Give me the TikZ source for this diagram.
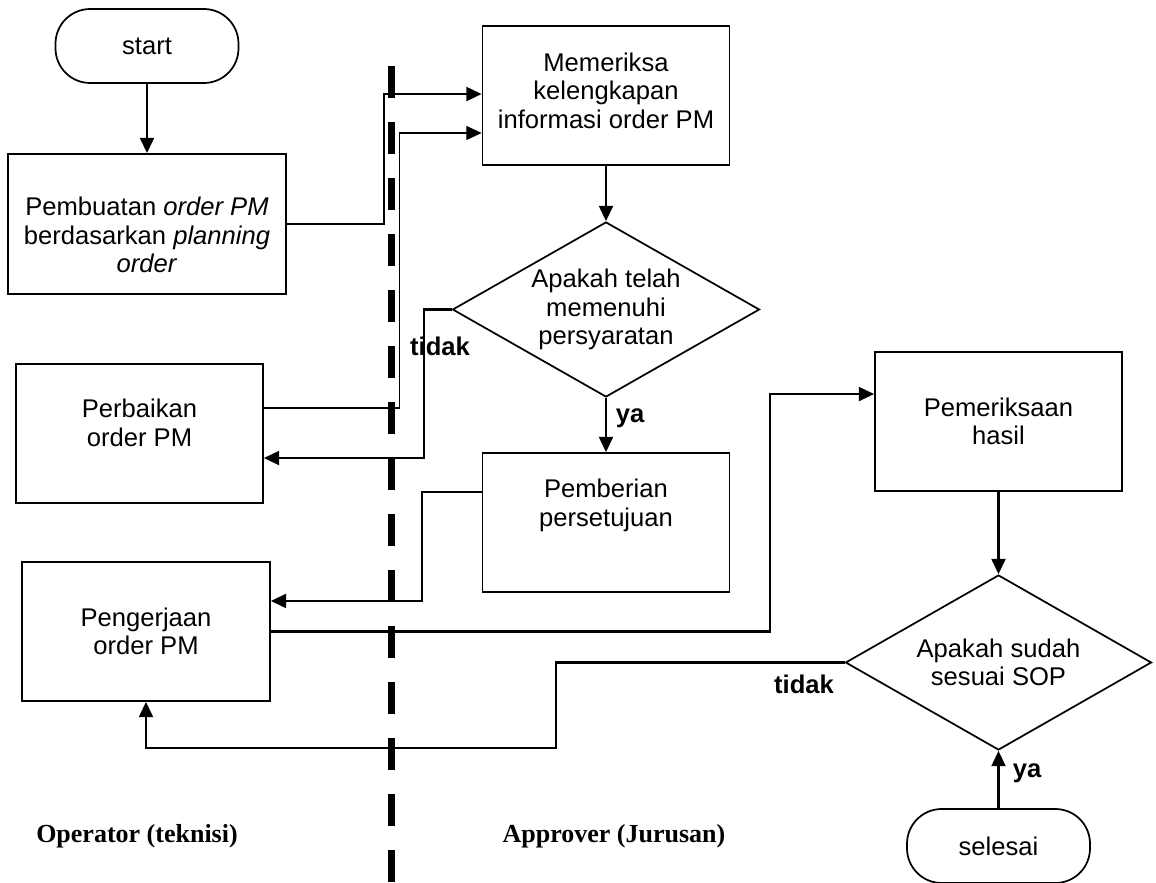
\documentclass[tikz,border=0pt]{standalone}
\usepackage{fontspec}
\setmainfont{Liberation Sans}
\newfontfamily\lajurfont{Liberation Serif}
\usetikzlibrary{arrows.meta,shapes.geometric}

\begin{document}
\begin{tikzpicture}[x=0.75pt, y=-0.75pt,
  every node/.style={font=\fontsize{19.2}{21.4}\selectfont},
  proses/.style={draw, line width=1.3pt, align=center, minimum width=185.25pt, minimum height=104.25pt, inner sep=2pt},
  keputusan/.style={draw, diamond, line width=1.3pt, align=center, aspect=1.75, inner sep=0pt, minimum width=230.25pt, minimum height=131.25pt},
  terminal/.style={draw, line width=1.3pt, rounded corners=26pt, minimum width=137.25pt, minimum height=55.5pt},
  panah/.style={-{Triangle[length=11.5pt, width=10.5pt]}, line width=1.7pt},
  ket/.style={font=\fontsize{19.2}{21.4}\selectfont\bfseries},
  lajur/.style={font=\fontsize{19.5}{22}\selectfont\lajurfont\bfseries},
  pemisah/.style={line width=5.25pt, dash pattern=on 24pt off 18pt}]
  \useasboundingbox (0,0) rectangle (1156,882);
  % Garis pemisah lajur
  \draw[pemisah] (391,66) -- (391,882);
  % Lajur operator
  \node[terminal] (start) at (147,46) {start};
  \node[proses, minimum width=208.5pt, minimum height=105pt, text height=72.8pt, text depth=0pt]
    (buat) at (147,224) {Pembuatan \textit{order PM}\\berdasarkan \textit{planning}\\\textit{order}};
  \node[proses, text height=19.5pt, text depth=0pt]
    (perbaikan) at (139.5,433.5) {Perbaikan\\order PM};
  \node[proses, minimum width=186pt]
    (kerja) at (146,631.5) {Pengerjaan\\order PM};
  % Lajur approver
  \node[proses, text height=49.5pt, text depth=0pt]
    (cek) at (606,95.5) {Memeriksa\\kelengkapan\\informasi order PM};
  \node[keputusan] (syarat) at (606,309.5) {Apakah telah\\memenuhi\\persyaratan};
  \node[proses, text height=5.25pt, text depth=0pt]
    (setuju) at (606,522.5) {Pemberian\\persetujuan};
  \node[proses] (periksa) at (998.5,421.5) {Pemeriksaan\\hasil};
  \node[keputusan, minimum width=229.5pt] (sop) at (998.5,662.5) {Apakah sudah\\sesuai SOP};
  \node[terminal] (selesai) at (998.5,846) {selesai};
  % Alur
  \draw[panah] (start) -- (buat);
  \draw[panah] (buat.east) -- ++(97,0) |- ([yshift=1.1pt]cek.west);
  \draw[panah, line width=0.9pt] ([yshift=19.1pt]perbaikan.east) -- ++(136,0) |- ([yshift=-28.1pt]cek.west);
  \draw[panah] (cek) -- (syarat);
  \draw[panah] (syarat.west) -- ++(-28,0) |- ([yshift=-18.4pt]perbaikan.east);
  \draw[panah] (syarat) -- (setuju);
  \draw[panah] ([yshift=22.9pt]setuju.west) -- ++(-60,0) |- ([yshift=22.9pt]kerja.east);
  \draw[panah] (kerja.east) -- ++(499,0) |- ([yshift=20.6pt]periksa.west);
  \draw[panah] (periksa) -- (sop);
  \draw[panah] (sop.west) -- ++(-289,0) -- ++(0,85.5) -| (kerja.south);
  \draw[panah] (selesai) -- (sop);
  % Keterangan
  \node[ket] (tidak1) at (440,346) {tidak};
  \node[ket] (ya1) at (630,418) {ya};
  \node[ket] (tidak2) at (804,684) {tidak};
  \node[ket] (ya2) at (1027,773) {ya};
  \node[lajur] (operator) at (137,836) {Operator (teknisi)};
  \node[lajur] (approver) at (614,836) {Approver (Jurusan)};
\end{tikzpicture}
\end{document}
